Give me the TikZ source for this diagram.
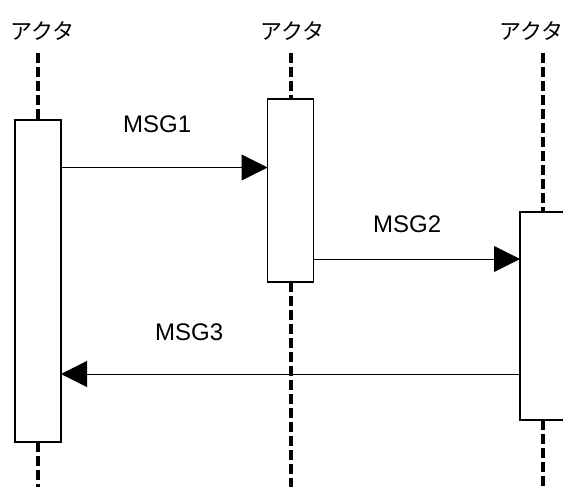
\documentclass[tikz,border=0pt]{standalone}
\usepackage{fontspec}
\setmainfont{Liberation Sans}
\newfontfamily\jp{Noto Sans CJK JP}
\usetikzlibrary{arrows.meta}
\tikzset{
  actlabel/.style={anchor=base west, inner sep=0pt, font=\jp\fontsize{22}{22}\selectfont},
  msglabel/.style={anchor=base west, inner sep=0pt, font=\fontsize{24}{24}\selectfont},
  actbox/.style={draw=black, line width=1.5pt, fill=white, minimum width=46pt, inner sep=0pt, outer sep=0pt},
  lifeline/.style={line width=4pt, dash pattern=on 10pt off 4pt},
  msgline/.style={line width=1pt, -{Triangle[length=26pt,width=26pt]}}
}
\begin{document}
\begin{tikzpicture}[x=1pt,y=-1pt]
\useasboundingbox (0,0) rectangle (563,487);
\clip (0,0) rectangle (563,487);
% actor labels
\node[actlabel] (a1) at (10.5,39.5) {アクタ};
\node[actlabel] (a2) at (260.5,39.5) {アクタ};
\node[actlabel] (a3) at (499.5,39.5) {アクタ};
% lifeline ends
\coordinate (t1) at (38,53);
\coordinate (t2) at (290.5,53);
\coordinate (t3) at (543,53);
\coordinate (e1) at (38,495);
\coordinate (e2) at (290.5,495);
\coordinate (e3) at (543,495);
% activation boxes
\node[actbox, minimum height=322pt] (b1) at (38,281) {};
\node[actbox, minimum height=183pt] (b2) at (290.5,190.5) {};
\node[actbox, minimum height=208pt] (b3) at (543,316) {};
% lifelines
\draw[lifeline] (t1) -- (b1.north);
\draw[lifeline] (b1.south) -- (e1);
\draw[lifeline] (t2) -- (b2.north);
\draw[lifeline] (b2.south) -- (e2);
\draw[lifeline] (t3) -- (b3.north);
\draw[lifeline] (b3.south) -- (e3);
% messages
\coordinate (m1) at (0,167.5);
\coordinate (m2) at (0,259);
\coordinate (m3) at (0,374);
\draw[msgline] (b1.east |- m1) -- (b2.west |- m1);
\draw[msgline] (b2.east |- m2) -- (b3.west |- m2);
\draw[msgline] (b3.west |- m3) -- (b1.east |- m3);
\node[msglabel] (l1) at (123,132) {MSG1};
\node[msglabel] (l2) at (373,232) {MSG2};
\node[msglabel] (l3) at (155,340) {MSG3};
\end{tikzpicture}
\end{document}
